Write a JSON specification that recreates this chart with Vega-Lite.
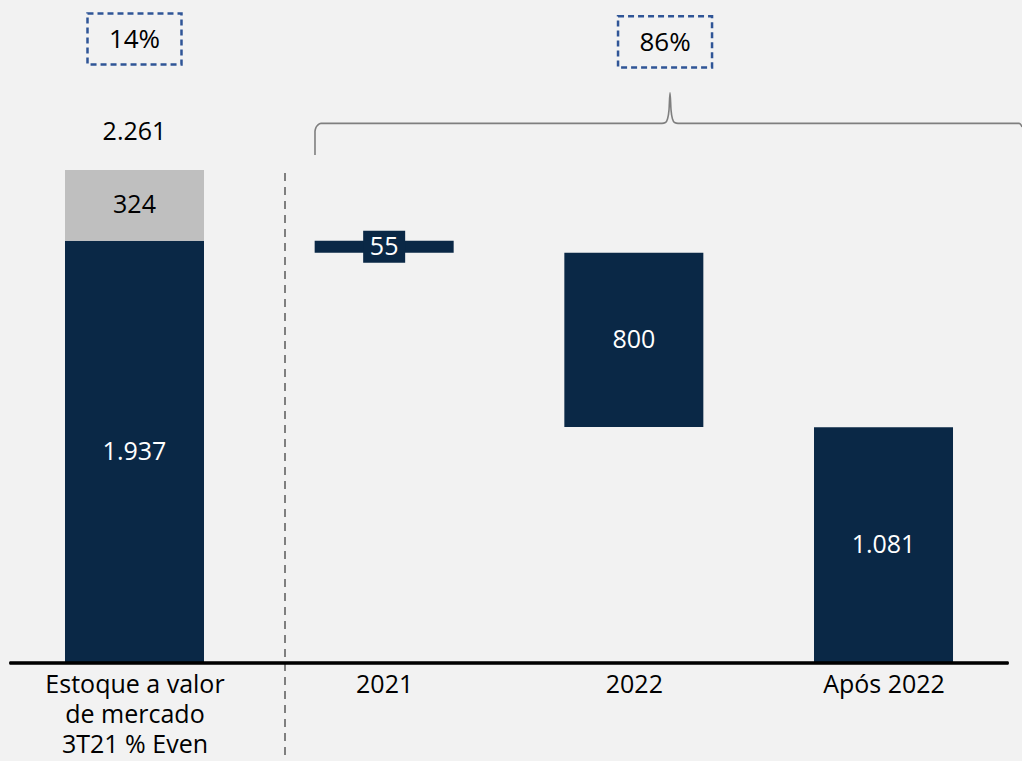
{
  "$schema": "https://vega.github.io/schema/vega-lite/v6.json",
  "autosize": {"type": "none"},
  "width": 1022,
  "height": 663,
  "padding": {"top": 0, "left": 0, "right": 0, "bottom": 98},
  "background": "#f2f2f2",
  "config": {"font": "Open Sans", "view": {"stroke": null}},
  "datasets": {
    "barras": [
      {"cat": 0, "serie": "even", "inicio": 0, "fim": 1937, "rotulo": "1.937"},
      {"cat": 0, "serie": "outros", "inicio": 1937, "fim": 2261, "rotulo": "324"},
      {"cat": 1, "serie": "even", "inicio": 1937, "fim": 1882, "rotulo": "55"},
      {"cat": 2, "serie": "even", "inicio": 1882, "fim": 1082, "rotulo": "800"},
      {"cat": 3, "serie": "even", "inicio": 1081, "fim": 0, "rotulo": "1.081"}
    ],
    "total": [{"cat": 0, "valor": 2261, "rotulo": "2.261"}],
    "percentuais": [
      {"x": 0, "nivel": 2862, "rotulo": "14%"},
      {"x": 2.125, "nivel": 2849, "rotulo": "86%"}
    ],
    "chave": [
      {"ordem": 1, "x": 0.7229, "y": 2330},
      {"ordem": 2, "x": 0.7229, "y": 2440},
      {"ordem": 3, "x": 0.7269, "y": 2456},
      {"ordem": 4, "x": 0.7349, "y": 2468},
      {"ordem": 5, "x": 0.7470, "y": 2475},
      {"ordem": 6, "x": 2.1128, "y": 2475},
      {"ordem": 7, "x": 2.1268, "y": 2479},
      {"ordem": 8, "x": 2.1348, "y": 2495},
      {"ordem": 9, "x": 2.1409, "y": 2537},
      {"ordem": 10, "x": 2.1449, "y": 2615},
      {"ordem": 11, "x": 2.1489, "y": 2537},
      {"ordem": 12, "x": 2.1549, "y": 2495},
      {"ordem": 13, "x": 2.1629, "y": 2479},
      {"ordem": 14, "x": 2.1769, "y": 2475},
      {"ordem": 15, "x": 3.5427, "y": 2475},
      {"ordem": 16, "x": 3.5507, "y": 2468},
      {"ordem": 17, "x": 3.5547, "y": 2459}
    ]
  },
  "data": {"name": "barras"},
  "transform": [{"calculate": "(datum.inicio + datum.fim) / 2", "as": "meio"}],
  "layer": [
    {
      "mark": {"type": "bar", "width": 139},
      "encoding": {
        "x": {
          "field": "cat", "type": "quantitative",
          "scale": {"domain": [-0.5387, 3.5547], "nice": false, "zero": false, "padding": 0},
          "axis": {
            "values": [0, 1, 2, 3], "domain": false, "ticks": false, "grid": false, "title": null,
            "labelExpr": "datum.value == 0 ? ['Estoque a valor', 'de mercado', '3T21 % Even'] : datum.value == 1 ? '2021' : datum.value == 2 ? '2022' : 'Após 2022'",
            "labelFontSize": 25, "labelColor": "#000000", "labelPadding": 9, "labelLineHeight": 30,
            "labelFont": "Open Sans", "labelFlush": false, "labelOverlap": false
          }
        },
        "y": {
          "field": "inicio", "type": "quantitative",
          "scale": {"domain": [0, 3041], "nice": false, "padding": 0},
          "axis": null
        },
        "y2": {"field": "fim"},
        "color": {
          "field": "serie", "type": "nominal",
          "scale": {"domain": ["even", "outros"], "range": ["#0a2846", "#bfbfbf"]},
          "legend": null
        }
      }
    },
    {
      "transform": [{"filter": "datum.rotulo === '55'"}],
      "mark": {"type": "point", "shape": "M-1,-0.762H1V0.762H-1Z", "size": 1764, "filled": true, "fill": "#0a2846", "strokeWidth": 0, "opacity": 1},
      "encoding": {
        "x": {"field": "cat", "type": "quantitative"},
        "y": {"field": "meio", "type": "quantitative"}
      }
    },
    {
      "mark": {"type": "text", "fontSize": 25, "align": "center", "baseline": "middle"},
      "encoding": {
        "x": {"field": "cat", "type": "quantitative"},
        "y": {"field": "meio", "type": "quantitative"},
        "text": {"field": "rotulo"},
        "color": {"condition": {"test": "datum.serie === 'outros'", "value": "#000000"}, "value": "#ffffff"}
      }
    },
    {
      "data": {"name": "total"},
      "mark": {"type": "text", "fontSize": 25, "align": "center", "baseline": "middle", "dy": -38, "color": "#000000"},
      "encoding": {
        "x": {"field": "cat", "type": "quantitative"},
        "y": {"field": "valor", "type": "quantitative"},
        "text": {"field": "rotulo"}
      }
    },
    {
      "data": {"name": "chave"},
      "mark": {"type": "line", "color": "#7f7f7f", "strokeWidth": 1.6, "interpolate": "monotone"},
      "encoding": {
        "x": {"field": "x", "type": "quantitative"},
        "y": {"field": "y", "type": "quantitative"},
        "order": {"field": "ordem"}
      }
    },
    {
      "data": {"name": "percentuais"},
      "mark": {"type": "point", "shape": "M-1,-0.543H1V0.543H-1Z", "size": 8836, "filled": false, "stroke": "#2f5597", "strokeWidth": 2.5, "strokeDash": [6, 4], "opacity": 1},
      "encoding": {
        "x": {"field": "x", "type": "quantitative"},
        "y": {"field": "nivel", "type": "quantitative"}
      }
    },
    {
      "data": {"name": "percentuais"},
      "mark": {"type": "text", "fontSize": 26, "align": "center", "baseline": "middle", "color": "#000000", "dy": 1},
      "encoding": {
        "x": {"field": "x", "type": "quantitative"},
        "y": {"field": "nivel", "type": "quantitative"},
        "text": {"field": "rotulo"}
      }
    },
    {
      "mark": {"type": "rule", "color": "#7f7f7f", "strokeWidth": 1.6, "strokeDash": [8, 6]},
      "encoding": {
        "x": {"datum": 0.603, "type": "quantitative"},
        "y": {"datum": 2248, "type": "quantitative"},
        "y2": {"datum": -450}
      }
    },
    {
      "mark": {"type": "rule", "color": "#000000", "strokeWidth": 2.5},
      "encoding": {
        "x": {"datum": -0.5, "type": "quantitative"},
        "x2": {"datum": 3.5},
        "y": {"datum": 0, "type": "quantitative"}
      }
    }
  ]
}
